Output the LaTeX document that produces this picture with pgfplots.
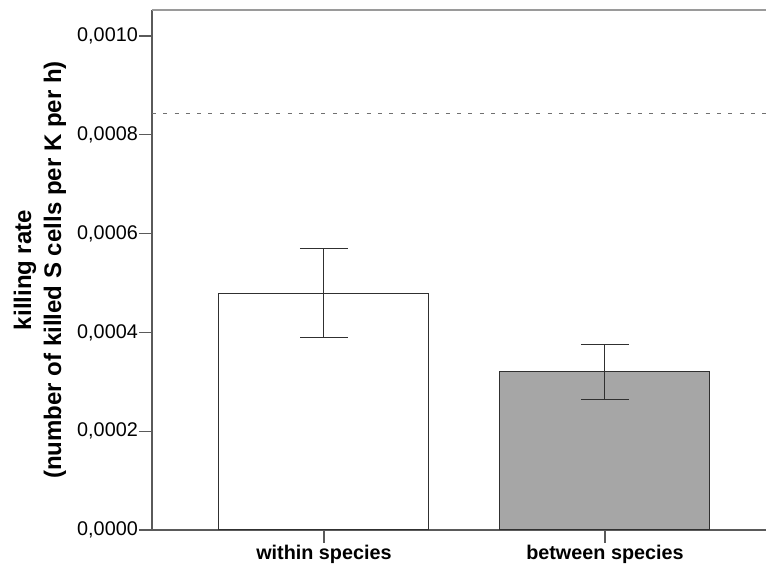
\documentclass[border=0pt]{standalone}
\usepackage{pgfplots}
\pgfplotsset{compat=1.18}
\usepackage{fontspec}
\setmainfont{Liberation Sans}

\definecolor{axisgray}{HTML}{5A5A5A}
\definecolor{framegray}{HTML}{9A9A9A}
\definecolor{barline}{HTML}{303030}
\definecolor{barfill}{HTML}{A6A6A6}
\definecolor{refline}{HTML}{707070}

\begin{document}
\begin{tikzpicture}[x=1pt,y=1pt]
\begin{axis}[
  at={(0pt,0pt)}, anchor=south west,
  scale only axis,
  width=614pt, height=520pt,
  xmin=-0.612, xmax=1.573,
  ymin=0, ymax=0.0010526,
  axis lines=left,
  axis line style={-, axisgray, line width=1.2pt},
  tick align=outside,
  major tick length=13pt,
  tick style={axisgray, line width=1.2pt},
  xtick={0,1},
  xticklabels={within species, between species},
  xticklabel style={font=\bfseries\fontsize{19.8}{24}\selectfont, inner sep=2pt},
  ytick={0,0.0002,0.0004,0.0006,0.0008,0.0010},
  scaled y ticks=false,
  yticklabel style={font=\fontsize{19.8}{24}\selectfont, inner sep=1pt,
    /pgf/number format/.cd, fixed, fixed zerofill, precision=4, use comma},
  /pgf/number format/assume math mode=true,
  ylabel={killing rate\\(number of killed S cells per K per h)},
  ylabel style={at={(axis description cs:-0.1824,0.5)}, anchor=center,
    align=center, font=\bfseries\fontsize{24}{30}\selectfont},
  clip=false,
]
% reference level
\addplot[refline, line width=1pt, dash pattern=on 4pt off 7.3pt]
  coordinates {(-0.612,0.000844) (1.573,0.000844)};

% group means with error bars
\addplot[ybar, bar width=210pt, bar shift=0pt, fill=white, draw=barline, line width=1pt,
  error bars/.cd, y dir=both, y explicit,
  error bar style={barline, line width=1pt},
  error mark options={rotate=90, mark size=24pt, barline, line width=1pt}]
  coordinates {(0,0.000479) +- (0,0.000090)};
\addplot[ybar, bar width=210pt, bar shift=0pt, fill=barfill, draw=barline, line width=1pt,
  error bars/.cd, y dir=both, y explicit,
  error bar style={barline, line width=1pt},
  error mark options={rotate=90, mark size=24pt, barline, line width=1pt}]
  coordinates {(1,0.0003205) +- (0,0.0000555)};

% top frame line
\draw[framegray, line width=2pt] (rel axis cs:0,1) -- (rel axis cs:1,1);
\end{axis}
\pgfresetboundingbox
\path (-152pt,-37pt) rectangle (614pt,530pt);
\end{tikzpicture}
\end{document}
